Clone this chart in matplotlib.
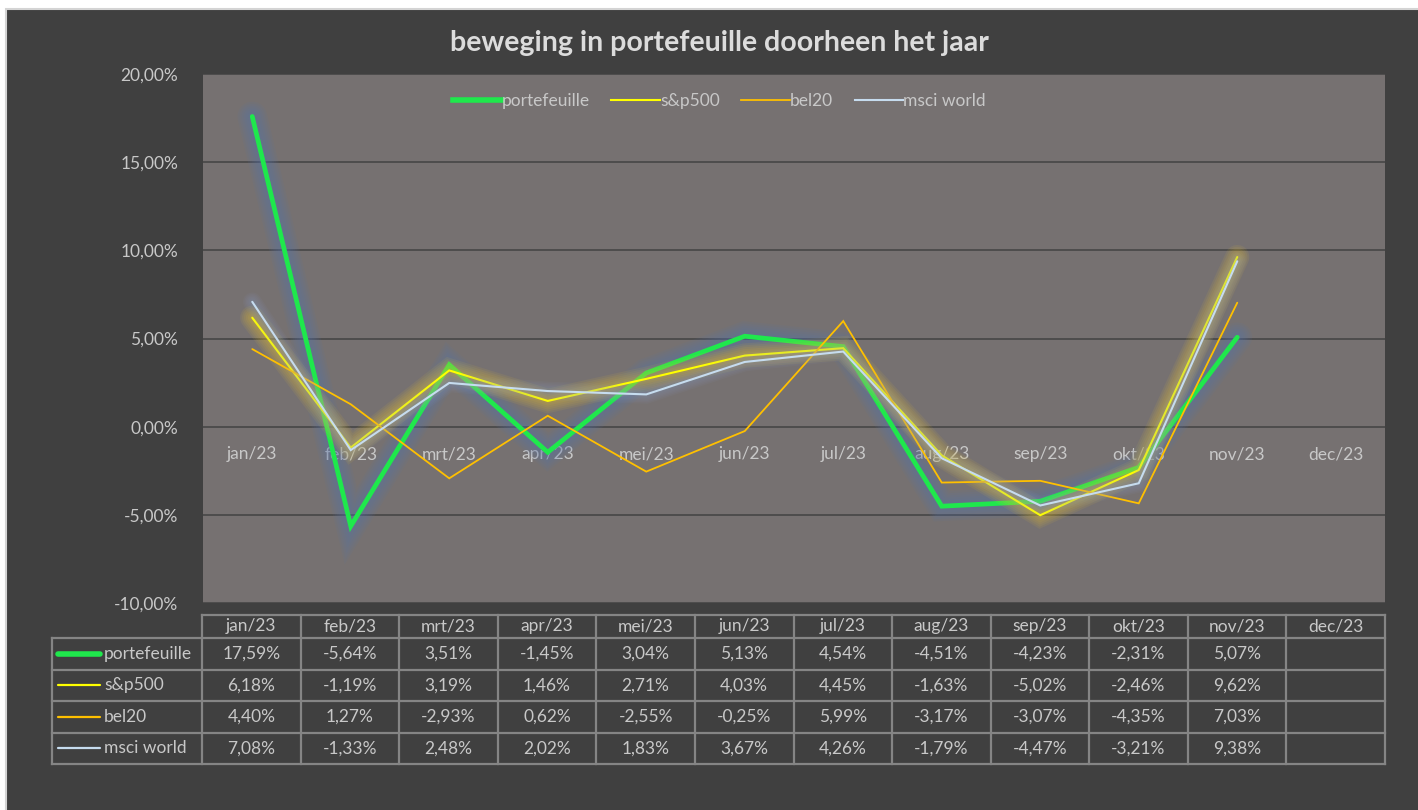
#!/usr/bin/env python3
"""Maandelijkse beweging van de portefeuille t.o.v. indexen, Excel-stijl met datatabel."""

import numpy as np
import matplotlib
matplotlib.use("Agg")
import matplotlib.pyplot as plt
import matplotlib.patheffects as pe
from matplotlib.lines import Line2D
from matplotlib.patches import Rectangle
from matplotlib.ticker import FuncFormatter

# --- data ---
months = ["jan/23", "feb/23", "mrt/23", "apr/23", "mei/23", "jun/23",
          "jul/23", "aug/23", "sep/23", "okt/23", "nov/23", "dec/23"]
series_names = ["portefeuille", "s&p500", "bel20", "msci world"]
portefeuille = [17.59, -5.64, 3.51, -1.45, 3.04, 5.13, 4.54, -4.51, -4.23, -2.31, 5.07, np.nan]
sp500 = [6.18, -1.19, 3.19, 1.46, 2.71, 4.03, 4.45, -1.63, -5.02, -2.46, 9.62, np.nan]
bel20 = [4.40, 1.27, -2.93, 0.62, -2.55, -0.25, 5.99, -3.17, -3.07, -4.35, 7.03, np.nan]
msci_world = [7.08, -1.33, 2.48, 2.02, 1.83, 3.67, 4.26, -1.79, -4.47, -3.21, 9.38, np.nan]
y_ticks = [-10, -5, 0, 5, 10, 15, 20]

# --- colours ---
FIG_BG = "#404040"
PLOT_BG = "#767171"
GRID = "#4a4a4a"
TEXT = "#c8c8c8"
TITLE = "#dcdcdc"
TABLE_LINE = "#858585"

styles = [
    dict(color="#1fe84c", lw=3.4, glow="#5873a8", glow_w=18, glow_a=0.10),
    dict(color="#ffff00", lw=1.5, glow="#e8c030", glow_w=16, glow_a=0.09),
    dict(color="#ffc000", lw=1.3, glow=None),
    dict(color="#c6dcef", lw=1.5, glow="#8aa2cc", glow_w=12, glow_a=0.06),
]
values = [portefeuille, sp500, bel20, msci_world]

plt.rcParams["font.family"] = ["Lato", "DejaVu Sans"]

W, H = 1418, 810
fig = plt.figure(figsize=(W / 100, H / 100), dpi=100)
fig.patch.set_facecolor("white")


def fx(px):
    return px / W


def fy(py):
    return 1 - py / H


# chart area with thin light border (only top/left edge visible)
fig.patches.append(Rectangle((fx(6), -0.05), 1.1, fy(9) + 0.05,
                             transform=fig.transFigure, facecolor=FIG_BG,
                             edgecolor="#d4d4d4", lw=1.5, zorder=-5))

fig.text(fx(719), fy(43), "beweging in portefeuille doorheen het jaar",
         ha="center", va="center", fontsize=20.5, fontweight="bold", color=TITLE)

# --- line chart ---
L, R, T, B = 203, 1385, 74, 603
ax = fig.add_axes([fx(L), fy(B), fx(R - L), fy(T) - fy(B)])
ax.set_facecolor(PLOT_BG)
x = np.arange(len(months))
ax.set_xlim(-0.5, len(months) - 0.5)
ax.set_ylim(-10, 20)

for vals, st in zip(values, styles):
    effects = []
    if st["glow"]:
        # soft glow: stacked translucent strokes, widest first
        for k in np.linspace(1.0, 0.15, 6):
            effects.append(pe.Stroke(linewidth=st["lw"] + st["glow_w"] * k,
                                     foreground=st["glow"], alpha=st["glow_a"]))
    effects.append(pe.Normal())
    ax.plot(x, vals, color=st["color"], lw=st["lw"], solid_capstyle="round",
            solid_joinstyle="miter", path_effects=effects, zorder=3)

ax.set_yticks(y_ticks)
ax.yaxis.set_major_formatter(FuncFormatter(lambda v, _: f"{v:.2f}%".replace(".", ",")))
ax.grid(axis="y", color=GRID, lw=1.3)
ax.set_axisbelow(True)
ax.tick_params(axis="y", length=0, pad=18, labelsize=12.5, labelcolor=TEXT)
for side in ("top", "right", "left"):
    ax.spines[side].set_visible(False)
ax.spines["bottom"].set_position(("data", 0))
ax.spines["bottom"].set_visible(False)
ax.set_xticks(x)
ax.set_xticklabels(months)
ax.tick_params(axis="x", length=0, pad=14, labelsize=12.5, labelcolor=TEXT)

handles = [Line2D([], [], color=st["color"], lw=st["lw"] if i else 4)
           for i, st in enumerate(styles)]
leg = ax.legend(handles, series_names, loc="upper center", bbox_to_anchor=(0.437, 1.0),
                ncol=4, frameon=False, fontsize=12.5, handlelength=2.8,
                handletextpad=0.0, columnspacing=1.25, borderaxespad=0.7)
for t in leg.get_texts():
    t.set_color(TEXT)

# --- data table ---
TL, TT = 52, 615
first_col = 202
col_w = (R - first_col) / len(months)
row_h = [23, 31.5, 31.5, 31.5, 31.5]
row_y = np.concatenate([[TT], TT + np.cumsum(row_h)])

tax = fig.add_axes([0, 0, 1, 1])
tax.set_xlim(0, W)
tax.set_ylim(H, 0)
tax.axis("off")

lk = dict(color=TABLE_LINE, lw=1.6, solid_capstyle="projecting")
# header row (no cell above legend column)
tax.plot([first_col, R], [TT, TT], **lk)
for yy in row_y[1:]:
    tax.plot([TL, R], [yy, yy], **lk)
tax.plot([TL, TL], [row_y[1], row_y[-1]], **lk)
for j in range(len(months) + 1):
    xx = first_col + j * col_w
    tax.plot([xx, xx], [TT, row_y[-1]], **lk)

for j, m in enumerate(months):
    tax.text(first_col + (j + 0.5) * col_w, (row_y[0] + row_y[1]) / 2, m,
             ha="center", va="center", fontsize=12.5, color=TEXT)

for i, (name, vals, st) in enumerate(zip(series_names, values, styles)):
    yc = (row_y[i + 1] + row_y[i + 2]) / 2
    tax.plot([58, 100], [yc, yc], color=st["color"], lw=4 if i == 0 else 1.6,
             solid_capstyle="round")
    tax.text(104, yc, name, ha="left", va="center", fontsize=12.5, color=TEXT)
    for j, v in enumerate(vals):
        if np.isnan(v):
            continue
        tax.text(first_col + (j + 0.5) * col_w, yc, f"{v:.2f}%".replace(".", ","),
                 ha="center", va="center", fontsize=12.5, color=TEXT)

fig.savefig("out.png", dpi=100, facecolor=fig.get_facecolor())
